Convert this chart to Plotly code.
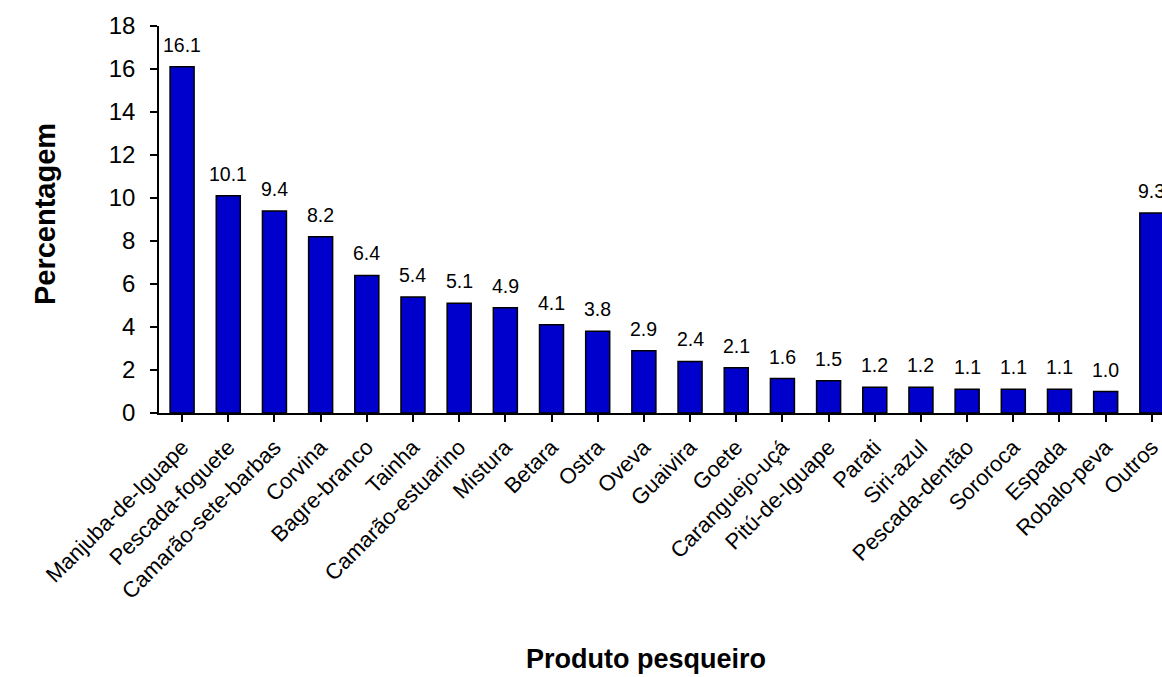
import plotly.graph_objects as go

produtos = ["Manjuba-de-Iguape", "Pescada-foguete", "Camarão-sete-barbas", "Corvina",
            "Bagre-branco", "Tainha", "Camarão-estuarino", "Mistura", "Betara", "Ostra",
            "Oveva", "Guaivira", "Goete", "Caranguejo-uçá", "Pitú-de-Iguape", "Parati",
            "Siri-azul", "Pescada-dentão", "Sororoca", "Espada", "Robalo-peva", "Outros"]
percentagem = [16.1, 10.1, 9.4, 8.2, 6.4, 5.4, 5.1, 4.9, 4.1, 3.8, 2.9, 2.4, 2.1,
               1.6, 1.5, 1.2, 1.2, 1.1, 1.1, 1.1, 1.0, 9.3]
y_ticks = [0, 2, 4, 6, 8, 10, 12, 14, 16, 18]

FONT = "Liberation Sans, Arial, sans-serif"
idx = list(range(len(produtos)))

fig = go.Figure(go.Bar(
    x=idx, y=percentagem, width=0.52,
    marker=dict(color="#0000CC", line=dict(color="black", width=1.5)),
))

# value labels above each bar
for i, v in zip(idx, percentagem):
    fig.add_annotation(x=i, y=v, text=f"{v:.1f}", showarrow=False,
                       yanchor="bottom", yshift=9,
                       font=dict(family=FONT, size=19.5, color="black"))

# axis titles
fig.add_annotation(xref="paper", yref="paper", x=-0.1137, y=0.514, text="<b>Percentagem</b>",
                   textangle=-90, showarrow=False, xanchor="center", yanchor="middle",
                   font=dict(family=FONT, size=29, color="black"))
fig.add_annotation(xref="paper", yref="paper", x=0.4855, y=-0.635, text="<b>Produto pesqueiro</b>",
                   showarrow=False, xanchor="center", yanchor="middle",
                   font=dict(family=FONT, size=27, color="black"))

fig.update_layout(
    width=1162, height=677,
    margin=dict(l=159, r=0, t=26, b=264),
    plot_bgcolor="white", paper_bgcolor="white",
    showlegend=False,
    font=dict(family=FONT, color="black"),
)
fig.update_xaxes(
    range=[-0.5, 21.22], tickmode="array", tickvals=idx, ticktext=produtos,
    tickangle=-45, tickson="boundaries", ticks="outside", ticklen=7, tickwidth=1.5,
    tickcolor="black", showline=True, linecolor="black", linewidth=1.5,
    showgrid=False, zeroline=False, ticklabelstandoff=4, ticklabeloverflow="allow",
    tickfont=dict(family=FONT, size=22, color="black"),
)
fig.update_yaxes(
    range=[0, 18], tickvals=y_ticks, ticks="outside", ticklen=7, tickwidth=1.5,
    tickcolor="black", showline=True, linecolor="black", linewidth=1.5,
    showgrid=False, zeroline=False, ticklabelstandoff=10,
    tickfont=dict(family=FONT, size=24, color="black"),
)

fig.write_html("out.html")
